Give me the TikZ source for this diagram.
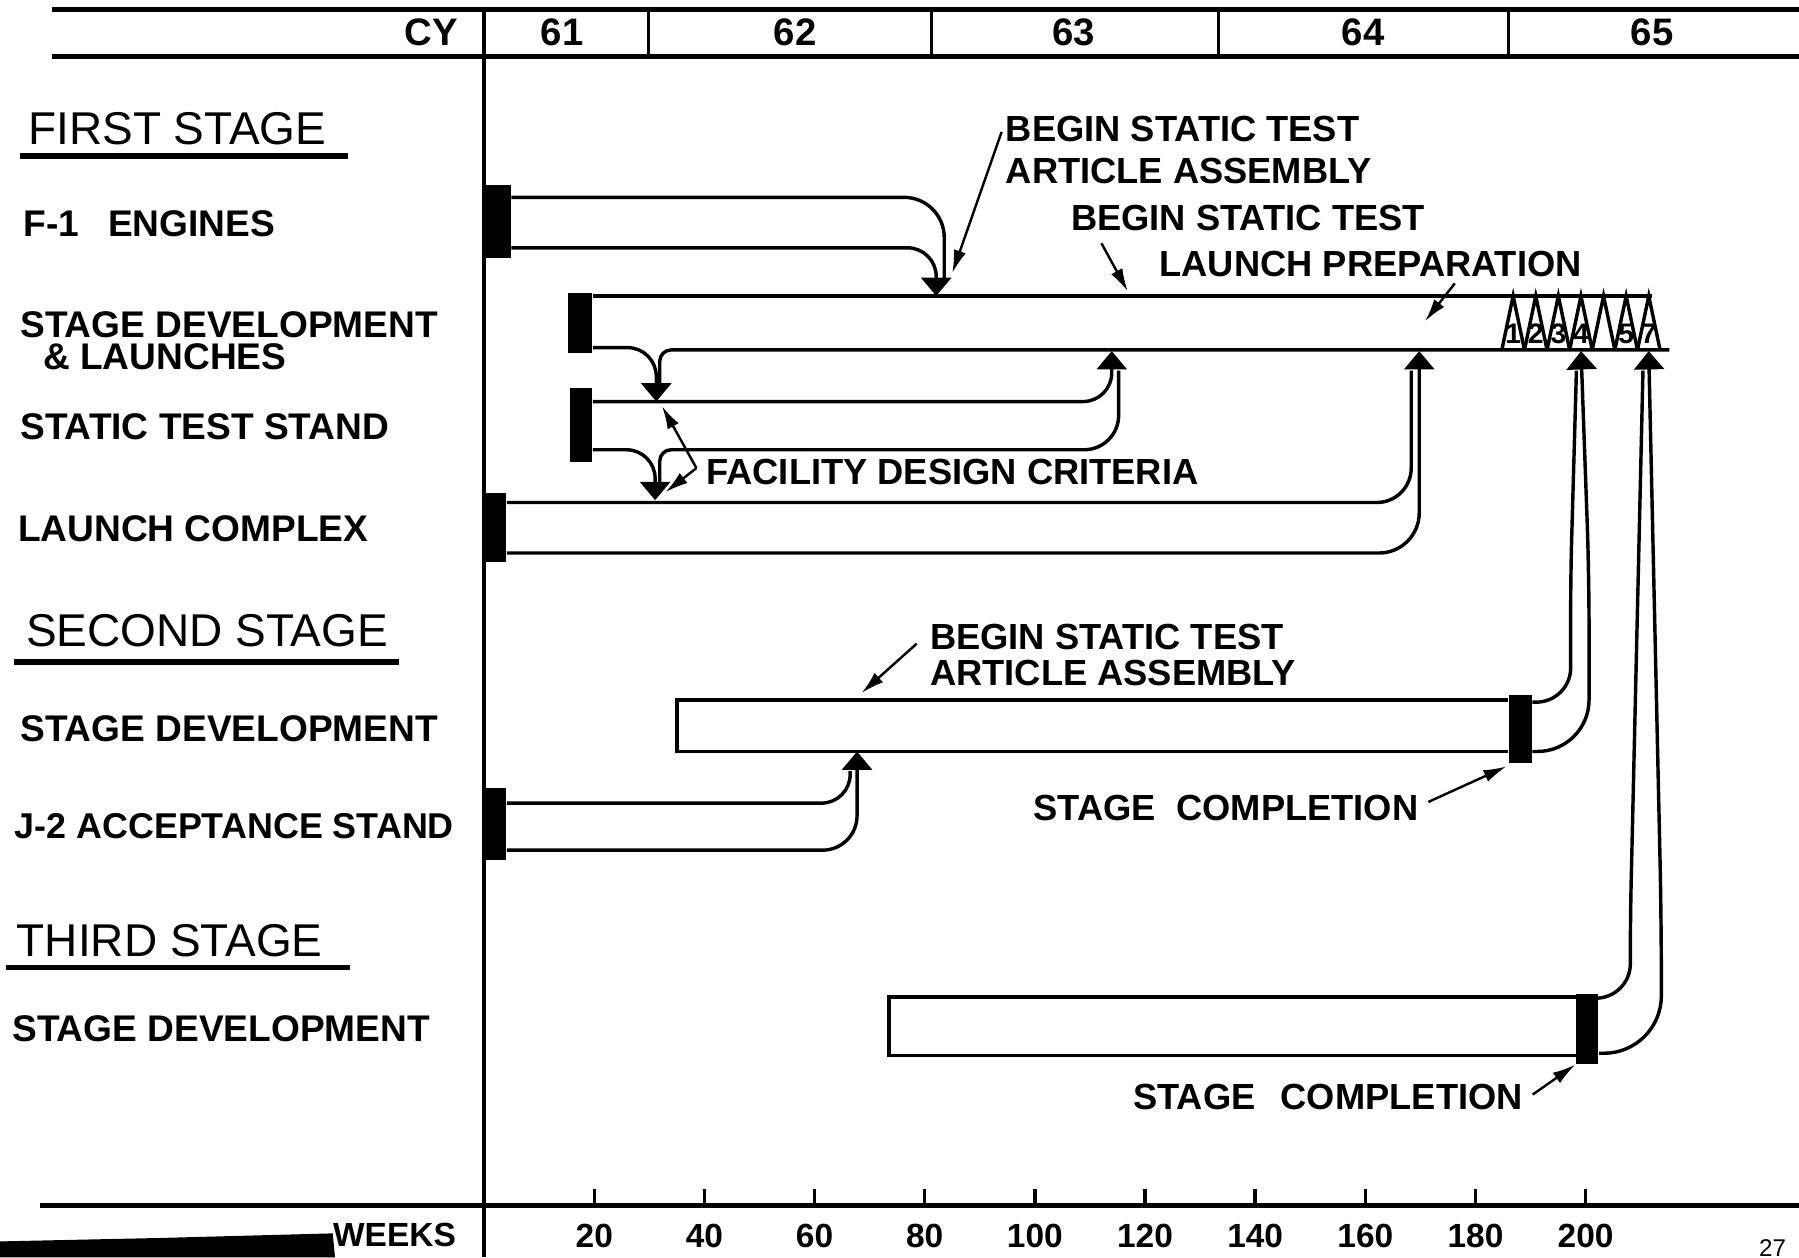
\documentclass[tikz,border=0pt]{standalone}
\usepackage{fontspec}
\setmainfont{Liberation Sans}
\usetikzlibrary{arrows.meta}

\begin{document}
\begin{tikzpicture}[x=0.1mm,y=-0.1mm,
  rowlbl/.style={anchor=west,inner sep=0pt,font=\fontsize{9.2}{9}\bfseries},
  stagehd/.style={anchor=west,inner sep=0pt,font=\fontsize{11.4}{12}\selectfont},
  scalelbl/.style={inner sep=0pt,font=\fontsize{8.3}{9}\bfseries},
  yearlbl/.style={inner sep=0pt,font=\fontsize{9.5}{10}\bfseries},
  note/.style={anchor=west,inner sep=0pt,align=left,font=\fontsize{9}{10.5}\bfseries},
  launch/.style={inner sep=0pt,font=\fontsize{7}{7}\bfseries},
  blk/.style={fill=black,inner sep=0pt},
  bar/.style={line width=0.85pt},
  rule/.style={line width=1.3pt},
  feed/.style={bar,rounded corners=2.5mm},
  tip/.style={-{Triangle[length=1.6mm,width=2.6mm]}},
  ptr/.style={line width=0.6pt,-{Latex[length=2mm,width=1.1mm]}}
]
\useasboundingbox (0,0) rectangle (1568,1096);

% calendar years
\draw[rule] (45,8) -- (1568,8);
\draw[rule] (45,49) -- (1568,49);
\draw[bar] (422,8) -- (422,1096);
\foreach \x in {565,812,1062,1315}
  \draw[bar] (\x,8) -- (\x,49);
\node[yearlbl,anchor=east] (cy) at (400,28) {CY};
\foreach \x/\yr in {490/61,693/62,936/63,1188/64,1440/65}
  \node[yearlbl] (yr\yr) at (\x,28) {\yr};

% weeks scale
\draw[rule] (35,1051) -- (1568,1051);
\foreach \w in {20,40,...,200}{
  \draw[bar] ({422+4.8*\w},1036) -- ({422+4.8*\w},1051);
  \node[scalelbl] (wk\w) at ({422+4.8*\w},1077) {\w};
}
\node[scalelbl,anchor=east] (weeks) at (398,1076) {WEEKS};
\fill (0,1082) -- (140,1079) -- (290,1075) -- (292,1096) -- (0,1096) -- cycle;
\node[inner sep=0pt,font=\fontsize{6}{6}\selectfont] (page) at (1545,1088) {27};

% row labels
\node[stagehd] (hd1) at (24,112) {FIRST STAGE};
\draw[rule] (17,136) -- (303,136);
\node[rowlbl] (f1lbl) at (20,195) {F-1\hspace{2.5mm}ENGINES};
\node[rowlbl,align=left,font=\fontsize{9.2}{8}\bfseries] (sdlbl) at (17,297) {STAGE DEVELOPMENT\\\hspace{2mm}\& LAUNCHES};
\node[rowlbl] (stlbl) at (17,372) {STATIC TEST STAND};
\node[rowlbl] (lclbl) at (15,461) {LAUNCH COMPLEX};
\node[stagehd] (hd2) at (22,550) {SECOND STAGE};
\draw[rule] (12,577) -- (348,577);
\node[rowlbl] (s2lbl) at (17,635) {STAGE DEVELOPMENT};
\node[rowlbl,font=\fontsize{8.9}{9}\bfseries] (j2lbl) at (12,720) {J-2 ACCEPTANCE STAND};
\node[stagehd] (hd3) at (14,820) {THIRD STAGE};
\draw[rule] (5,843) -- (305,843);
\node[rowlbl] (s3lbl) at (10,897) {STAGE DEVELOPMENT};

% start blocks
\node[blk,minimum width=2.1mm,minimum height=6.4mm] (f1) at (434.5,193) {};
\node[blk,minimum width=2.1mm,minimum height=5.3mm] (sd) at (505.5,281.5) {};
\node[blk,minimum width=1.9mm,minimum height=6.5mm] (st) at (506.5,370.5) {};
\node[blk,minimum width=1.8mm,minimum height=6mm] (lc) at (432,460) {};
\node[blk,minimum width=1.8mm,minimum height=6.3mm] (j2) at (432,718.5) {};
\node[blk,minimum width=2mm,minimum height=5.9mm] (s2) at (1325,635.5) {};
\node[blk,minimum width=1.9mm,minimum height=6.1mm] (s3) at (1383.5,896.5) {};

% arrow tips
\coordinate (tA) at (816,258);
\coordinate (tB) at (572,350);
\coordinate (tC) at (571,436);
\coordinate (tD) at (969,306);
\coordinate (tE) at (1237,306);
\coordinate (tF) at (1378,306);
\coordinate (tG) at (1437,306);
\coordinate (tH) at (747,655);

% first stage development and launches
\draw[bar] (sd.east |- 0,258) -- (1440,258);
\draw[bar,rounded corners=1mm] (1455,305) -| (575,334);
\foreach \i/\n in {1/1,2/2,3/3,4/4,5/{},6/5,7/7}{
  \pgfmathsetmacro\xl{1309+19.7*(\i-1)}
  \draw[bar] (\xl,305) -- ({\xl+9.85},258) -- ({\xl+19.7},305);
  \node[launch] (ln\i) at ({\xl+9.85},291) {\n};
}

% feeds into the first stage
\draw[feed,rounded corners=3.5mm] (f1.east |- 0,172) -| (823,244);
\draw[feed,tip] (f1.east |- 0,216) -| (tA);
\draw[feed,tip] (sd.east |- 0,303) -| (tB);
\draw[feed,tip] (st.east |- 0,350) -| (tD);
\draw[bar,rounded corners=1mm] (575,420) |- (700,392);
\draw[feed,rounded corners=3mm] (700,392) -| (975,323);
\draw[feed,tip] (st.east |- 0,392) -| (tC);
\draw[feed,rounded corners=3mm] (lc.east |- 0,438) -| (1230,323);
\draw[feed,rounded corners=3.5mm,tip] (lc.east |- 0,482) -| (tE);

% second stage
\draw[bar] (s2.west |- 0,610) -- (590,610) -- (590,655) -- (s2.west |- 0,655);
\draw[feed,rounded corners=2.5mm] (j2.east |- 0,700) -| (741,672);
\draw[feed,rounded corners=3mm,tip] (j2.east |- 0,741) -| (tH);
\draw[feed,rounded corners=3mm] (s2.east |- 0,612) -| (1369,500) -- (1374,323);
\draw[feed,rounded corners=4.5mm,tip] (s2.east |- 0,655) -| (1385,500) -- (tF);

% third stage
\draw[bar] (s3.west |- 0,869) -- (775,869) -- (775,920) -- (s3.west |- 0,920);
\draw[feed,rounded corners=3mm] (s3.east |- 0,870) -| (1421,800) -- (1432,323);
\draw[feed,rounded corners=5mm,tip] (s3.east |- 0,918) -| (1448,800) -- (tG);

% notes
\node[note] (bst1) at (876,131) {BEGIN STATIC TEST\\ARTICLE ASSEMBLY};
\coordinate (pA) at (830,238);
\draw[ptr] ([shift={(-3,-16)}]bst1.west) -- (pA);
\node[note] (bst2) at (933,190) {BEGIN STATIC TEST};
\coordinate (pB) at (983,254);
\draw[ptr] ([shift={(27,22)}]bst2.west) -- (pB);
\node[note] (lprep) at (1010,230) {LAUNCH PREPARATION};
\coordinate (pC) at (1242,280);
\draw[ptr] ([shift={(258,17)}]lprep.west) -- (pC);
\node[note] (fdc) at (615,411) {FACILITY DESIGN CRITERIA};
\coordinate (pD) at (577,354);
\coordinate (pE) at (580,429);
\draw[ptr] ([shift={(-8,-3)}]fdc.west) -- (pD);
\draw[ptr] ([shift={(-8,-3)}]fdc.west) -- (pE);
\node[note,font=\fontsize{9}{8.8}\bfseries] (bst3) at (810,571) {BEGIN STATIC TEST\\ARTICLE ASSEMBLY};
\coordinate (pF) at (751,604);
\draw[ptr] ([shift={(-11,-10)}]bst3.west) -- (pF);
\node[note] (sc2) at (900,704) {STAGE\hspace{1.8mm}COMPLETION};
\coordinate (pG) at (1313,668);
\draw[ptr] ([shift={(8,-5)}]sc2.east) -- (pG);
\node[note] (sc3) at (987,956) {STAGE\hspace{2.2mm}COMPLETION};
\coordinate (pH) at (1373,928);
\draw[ptr] ([shift={(8,-2)}]sc3.east) -- (pH);
\end{tikzpicture}
\end{document}
